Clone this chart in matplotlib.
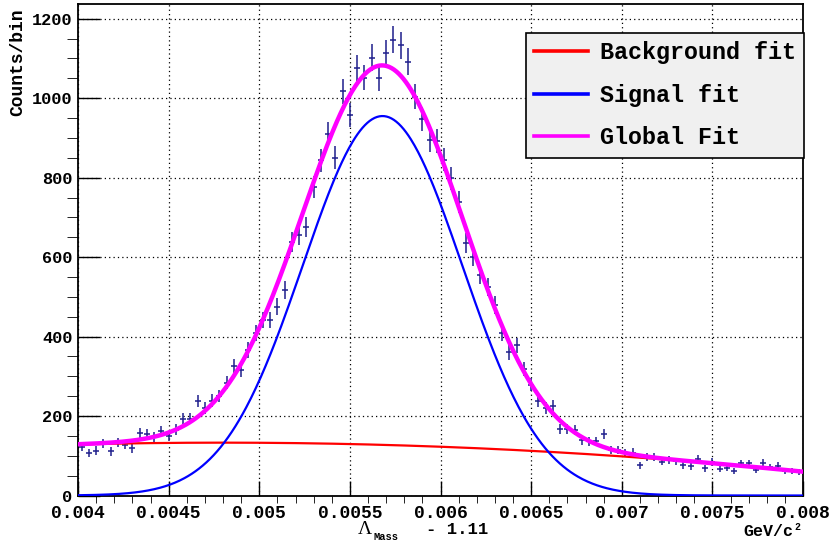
import numpy as np
import matplotlib
matplotlib.use("Agg")
import matplotlib.pyplot as plt
from matplotlib.ticker import MultipleLocator, FuncFormatter

# histogram: 100 bins from 0.004 to 0.008 (Lambda mass - 1.11, GeV/c^2)
x_lo, x_hi, n_bins = 0.004, 0.008, 100
counts = [
    122, 107, 113, 130, 111, 134, 128, 119, 157, 155,
    147, 162, 149, 166, 193, 193, 238, 221, 239, 250,
    284, 326, 315, 366, 408,
    442, 442, 475, 517, 638, 655, 676, 777, 844, 909,
    850, 1017, 958, 1077, 1052, 1102, 1050, 1113, 1147, 1133,
    1092, 1004, 948, 895, 892,
    845, 798, 739, 636, 601, 555, 525, 479, 408, 361,
    378, 318, 279, 238, 220, 225, 168, 168, 164, 139,
    136, 136, 155,
    115, 115, 107, 108, 76, 97, 96, 85, 90, 86,
    76, 74, 93, 68, 84, 67, 70, 62, 81, 81,
    65, 83, 72, 75, 61, 61, 60,
]

# fit parameters
sig_amp, sig_mean, sig_sigma = 955.0, 0.00568, 0.00044
bg_top, bg_x0, bg_curv = 133.0, 0.0048, 7.13e6

legend_labels = ["Background fit", "Signal fit", "Global Fit"]

FONT = "Liberation Mono"

edges = np.linspace(x_lo, x_hi, n_bins + 1)
centers = 0.5 * (edges[:-1] + edges[1:])
bw = edges[1] - edges[0]
y = np.array(counts, dtype=float)

xf = np.linspace(x_lo, x_hi, 600)
signal = sig_amp * np.exp(-0.5 * ((xf - sig_mean) / sig_sigma) ** 2)
background = bg_top - bg_curv * (xf - bg_x0) ** 2
total = signal + background

fig = plt.figure(figsize=(8.33, 5.48), dpi=100)
ax = fig.add_axes([78 / 833, 1 - 495.5 / 548, 725 / 833, 491.5 / 548])

ax.errorbar(centers, y, yerr=np.sqrt(y), xerr=0.4 * bw, fmt="none",
            ecolor="#1e1e8c", elinewidth=1.1, zorder=3)
l_bg, = ax.plot(xf, background, color="#ff0000", lw=1.6, zorder=4)
l_sig, = ax.plot(xf, signal, color="#0000ff", lw=1.6, zorder=4)
l_tot, = ax.plot(xf, total, color="#ff00ff", lw=3.2, zorder=5)

ax.set_xlim(x_lo, x_hi)
ax.set_ylim(0, 1237)

ax.xaxis.set_major_locator(MultipleLocator(0.0005))
ax.xaxis.set_minor_locator(MultipleLocator(0.0001))
ax.yaxis.set_major_locator(MultipleLocator(200))
ax.yaxis.set_minor_locator(MultipleLocator(50))
ax.xaxis.set_major_formatter(FuncFormatter(lambda v, p: ("%.4f" % v).rstrip("0")))
ax.yaxis.set_major_formatter(FuncFormatter(lambda v, p: "%d" % v))

ax.tick_params(direction="in", top=False, right=False, width=1, colors="black")
ax.tick_params(axis="x", which="major", length=10.6, pad=7)
ax.tick_params(axis="x", which="minor", length=5.3)
ax.tick_params(axis="y", which="major", length=15.6, pad=4)
ax.tick_params(axis="y", which="minor", length=7.8)
for lab in ax.get_xticklabels():
    lab.set_fontfamily(FONT)
    lab.set_fontweight("bold")
    lab.set_fontsize(13)
for lab in ax.get_yticklabels():
    lab.set_fontfamily(FONT)
    lab.set_fontweight("bold")
    lab.set_fontsize(12.2)

ax.grid(True, which="major", color="black", linestyle=(0, (1, 2.5)), lw=0.9)
ax.set_axisbelow(True)
for s in ax.spines.values():
    s.set_linewidth(1.3)

# axis titles
fig.text(18 / 833, 1 - 8 / 548, "Counts/bin", rotation=90, ha="center", va="top",
         family=FONT, weight="bold", fontsize=13)
fig.text(372 / 833, 1 - 529 / 548, "\u039b", ha="right", va="center",
         family="Liberation Serif", fontsize=14)
fig.text(374 / 833, 1 - 537 / 548, "Mass", ha="left", va="center",
         family=FONT, weight="bold", fontsize=7.5)
fig.text(426 / 833, 1 - 529 / 548, "- 1.11", ha="left", va="center",
         family=FONT, weight="bold", fontsize=12.5)
fig.text(793 / 833, 1 - 532 / 548, "GeV/c", ha="right", va="center",
         family=FONT, weight="bold", fontsize=12)
fig.text(794 / 833, 1 - 527 / 548, "2", ha="left", va="center",
         family=FONT, weight="bold", fontsize=7)

leg = ax.legend([l_bg, l_sig, l_tot], legend_labels, loc="upper right",
                bbox_to_anchor=((804 - 78) / 725, (495.5 - 33) / 491.5),
                borderaxespad=0, frameon=True, fancybox=False,
                prop={"family": FONT, "weight": "bold", "size": 16.8},
                handlelength=2.3, handletextpad=0.5, labelspacing=0.83,
                borderpad=0.36)
leg.get_frame().set_facecolor("#f0f0f0")
leg.get_frame().set_edgecolor("black")
leg.get_frame().set_linewidth(1.2)
leg.get_frame().set_alpha(1)
for h in leg.get_lines():
    h.set_linewidth(2.6)

fig.savefig("out.png", dpi=100)
